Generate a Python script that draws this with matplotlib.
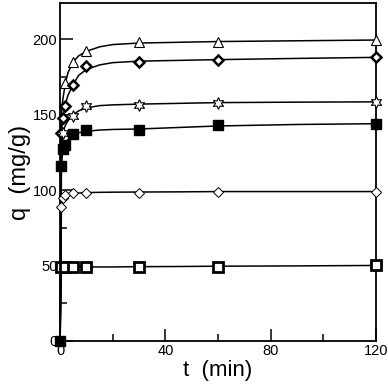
import numpy as np
import matplotlib.pyplot as plt
from matplotlib.ticker import MultipleLocator

plt.rcParams['font.family'] = ['Liberation Sans', 'DejaVu Sans']

# measured points (t in min, q in mg/g)
t_tri = [2, 5, 10, 30, 60, 120]
q_tri = [171, 185, 192, 198, 198.5, 199.5]

t_dia = [0.5, 1, 2, 5, 10, 30, 60, 120]
q_dia = [138, 148, 156, 170, 182, 185, 186, 188]

t_star = [1, 5, 10, 30, 60, 120]
q_star = [138, 149, 156, 156.5, 158, 158.5]

t_fsq = [0, 0.5, 1, 2, 5, 10, 30, 60, 120]
q_fsq = [0, 116, 127, 130, 137, 140, 140, 143, 144]

t_odia = [0.5, 1, 2, 5, 10, 30, 60, 120]
q_odia = [89, 95, 97, 98, 98, 98, 99, 99]

t_osq = [0.5, 2, 5, 10, 30, 60, 120]
q_osq = [49, 49, 49, 49, 49, 49, 50]

# fitted curves
tc = [0, 0.5, 1, 2, 3, 5, 7, 10, 15, 20, 30, 45, 60, 90, 120]
qc_tri = [0, 150, 160, 171, 178, 185, 189, 192, 195, 196.5, 197.5, 198, 198.5, 199, 199.5]
qc_dia = [0, 138, 148, 157, 163, 170, 176, 180, 183, 184.5, 185.5, 186, 186.5, 187.3, 188]
qc_star = [0, 128, 138, 143, 146, 150, 152.5, 154.5, 156, 156.5, 157, 157.5, 158, 158.3, 158.5]
qc_fsq = [0, 116, 127, 131, 133.5, 136.5, 138, 139, 139.8, 140.2, 140.5, 141.5, 142.5, 143.5, 144]
qc_odia = [0, 90, 95, 97, 97.5, 98, 98, 98.3, 98.5, 98.6, 98.7, 98.8, 99, 99, 99]
qc_osq = [0, 49, 49, 49, 49, 49, 49, 49, 49, 49, 49.2, 49.3, 49.5, 49.7, 50]

fig = plt.figure(figsize=(3.88, 3.86), dpi=100)
ax = fig.add_axes([0.155, 0.117, 0.814, 0.875])

for qc in (qc_tri, qc_dia, qc_star, qc_fsq, qc_odia, qc_osq):
    ax.plot(tc, qc, color='black', lw=1.1, clip_on=False, zorder=2)

ax.plot(t_tri, q_tri, ls='none', marker='^', ms=6.5, mfc='white', mec='black', mew=0.8, clip_on=False, zorder=3)
ax.plot(t_dia, q_dia, ls='none', marker='D', ms=5.5, mfc='white', mec='black', mew=1.8, clip_on=False, zorder=3)
ax.plot(t_star, q_star, ls='none', marker=(6, 1, 0), ms=8.5, mfc='white', mec='black', mew=0.8, clip_on=False, zorder=3)
ax.plot(t_fsq, q_fsq, ls='none', marker='s', ms=7.5, mfc='black', mec='black', clip_on=False, zorder=3)
ax.plot(t_odia, q_odia, ls='none', marker='D', ms=5.5, mfc='white', mec='black', mew=0.7, clip_on=False, zorder=3)
ax.plot(t_osq, q_osq, ls='none', marker='s', ms=6.5, mfc='white', mec='black', mew=2.0, clip_on=False, zorder=3)

ax.set_xlim(0, 120)
ax.set_ylim(0, 224)
ax.set_xticks([0, 40, 80, 120])
ax.set_yticks([0, 50, 100, 150, 200])
ax.xaxis.set_minor_locator(MultipleLocator(20))
ax.yaxis.set_minor_locator(MultipleLocator(25))
ax.tick_params(which='major', direction='in', length=9, width=1.1, labelsize=10.5, pad=2)
ax.tick_params(which='minor', direction='in', length=5, width=1.1)
for s in ax.spines.values():
    s.set_linewidth(1.3)

ax.set_xlabel('t  (min)', fontsize=16, labelpad=2)
ax.set_ylabel('q  (mg/g)', fontsize=17, labelpad=1)

fig.savefig('out.png', dpi=100)
